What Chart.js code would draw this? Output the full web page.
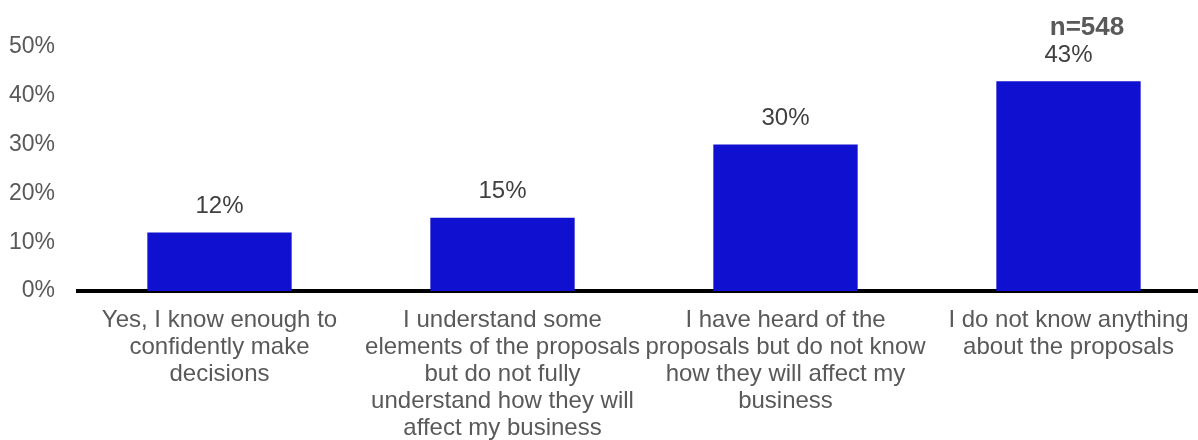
<!DOCTYPE html>
<html>
<head>
<meta charset="utf-8">
<script src="https://cdn.jsdelivr.net/npm/chart.js@4.4.1/dist/chart.umd.min.js"></script>
<style>
    html, body { margin: 0; padding: 0; background: #fff; overflow: hidden; }
    #wrap { position: relative; width: 1210px; height: 440px; }
</style>
</head>
<body>
<div id="wrap"><canvas id="awareness-chart"></canvas></div>
<script>
// ===== Awareness of proposals: single-series bar chart =====

const categories = [
    ['Yes, I know enough to', 'confidently make', 'decisions'],
    ['I understand some', 'elements of the proposals', 'but do not fully', 'understand how they will', 'affect my business'],
    ['I have heard of the', 'proposals but do not know', 'how they will affect my', 'business'],
    ['I do not know anything', 'about the proposals']
];
const shares = [12, 15, 30, 43];
const yTicks = [0, 10, 20, 30, 40, 50];
const sampleNote = 'n=548';

const FONT = '"Liberation Sans", Arial, sans-serif';

// Value labels above each bar + sample size note in the corner
const barLabels = {
    id: 'barLabels',
    afterDatasetsDraw(chart) {
        const ctx = chart.ctx;
        const meta = chart.getDatasetMeta(0);
        ctx.save();
        ctx.fillStyle = '#404040';
        ctx.font = '24px ' + FONT;
        ctx.textAlign = 'center';
        ctx.textBaseline = 'middle';
        meta.data.forEach((bar, i) => {
            ctx.fillText(shares[i] + '%', bar.x, bar.y - 26);
        });
        ctx.font = 'bold 26px ' + FONT;
        ctx.fillStyle = '#595959';
        ctx.fillText(sampleNote, 1087, 28);
        ctx.restore();
    }
};

const ctx = document.getElementById('awareness-chart').getContext('2d');

window.awarenessChart = new Chart(ctx, {
    type: 'bar',
    data: {
        labels: categories,
        datasets: [{
            data: shares,
            backgroundColor: '#1010D0',
            barPercentage: 0.51,
            categoryPercentage: 1
        }]
    },
    options: {
        responsive: true,
        maintainAspectRatio: false,
        animation: false,
        layout: { padding: { top: 47, left: 0, right: 0, bottom: 0 } },
        plugins: {
            legend: { display: false },
            tooltip: { enabled: false }
        },
        scales: {
            x: {
                grid: { display: false, drawTicks: false },
                border: { display: true, color: '#000', width: 4 },
                ticks: {
                    color: '#595959',
                    font: { family: FONT, size: 24, lineHeight: 27 / 24 },
                    padding: 16,
                    autoSkip: false,
                    minRotation: 0,
                    maxRotation: 0
                },
                afterFit(scale) { scale.height = 149; }
            },
            y: {
                min: 0,
                max: 50,
                grid: { display: false, drawTicks: false },
                border: { display: false },
                afterBuildTicks(scale) {
                    scale.ticks = yTicks.map(v => ({ value: v }));
                },
                ticks: {
                    color: '#595959',
                    font: { family: FONT, size: 23 },
                    padding: 23,
                    callback: v => v + '%'
                },
                afterFit(scale) { scale.width = 78; }
            }
        }
    },
    plugins: [barLabels]
});
</script>
</body>
</html>
